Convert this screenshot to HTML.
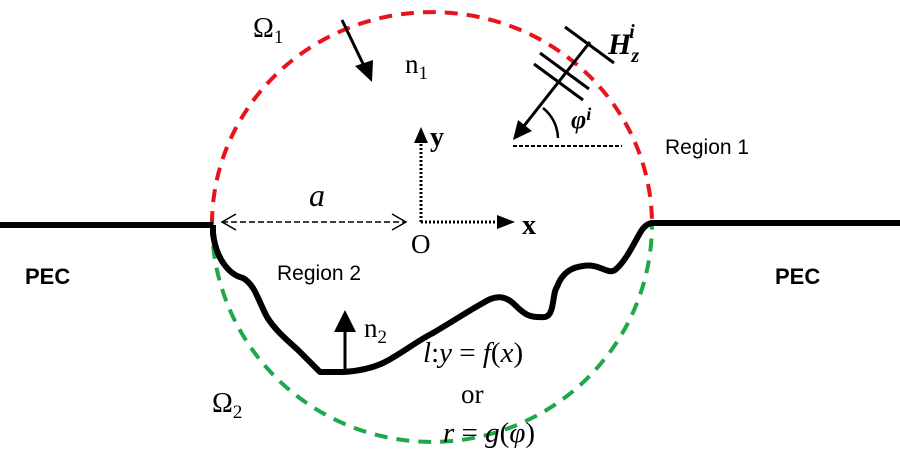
<!DOCTYPE html>
<html><head><meta charset="utf-8"><style>html,body{margin:0;padding:0;background:#fff}svg{display:block}</style></head>
<body>
<svg width="900" height="451" viewBox="0 0 900 451" xmlns="http://www.w3.org/2000/svg">
<path d="M212,224 A220,212 0 0 1 652,224" fill="none" stroke="#e8141c" stroke-width="4" stroke-dasharray="13,9"/>
<path d="M212,224 A220,218 0 0 0 652,224" fill="none" stroke="#1fa84a" stroke-width="4" stroke-dasharray="13,9"/>
<line x1="0" y1="225" x2="213" y2="225" stroke="#000" stroke-width="6"/>
<line x1="650" y1="223" x2="900" y2="223" stroke="#000" stroke-width="6"/>
<path d="M213,225 L213,233 C216,260 230,275 243,278 C255,285 258,300 267,317 C275,330 287,340 298,350 L320,372 L343,372 C360,371 372,368 383,363 C400,355 415,342 433,333 C455,320 470,310 483,303 C495,295 505,295 515,305 C525,315 530,318 545,317 C555,315 552,293 557,287 C563,270 575,267 583,266 C600,263 607,275 615,270 C625,262 632,247 640,233 C644,226 648,223 653,223" fill="none" stroke="#000" stroke-width="6" stroke-linejoin="round"/>
<line x1="342" y1="20" x2="366" y2="70" stroke="#000" stroke-width="3"/>
<path d="M372,82 L355,66 L373,60 z" fill="#000"/>
<line x1="421" y1="222" x2="421" y2="142" stroke="#000" stroke-width="3" stroke-dasharray="2,2"/>
<path d="M421,127 L414,143 L428,143 z" fill="#000"/>
<line x1="421" y1="222" x2="498" y2="222" stroke="#000" stroke-width="3" stroke-dasharray="2,2"/>
<path d="M515,222 L497,215 L497,229 z" fill="#000"/>
<line x1="222" y1="222" x2="406" y2="222" stroke="#000" stroke-width="1.5" stroke-dasharray="6,3"/>
<path d="M236,214 L222,222 L236,230" fill="none" stroke="#000" stroke-width="1.5"/>
<path d="M392,214 L406,222 L392,230" fill="none" stroke="#000" stroke-width="1.5"/>
<line x1="590" y1="42" x2="520" y2="131" stroke="#000" stroke-width="3"/>
<path d="M513,140 L518,120 L532,131 z" fill="#000"/>
<line x1="565" y1="27" x2="614" y2="63" stroke="#000" stroke-width="3"/>
<line x1="540" y1="53" x2="589" y2="89" stroke="#000" stroke-width="3"/>
<line x1="534" y1="64" x2="583" y2="100" stroke="#000" stroke-width="3"/>
<path d="M543,108 A40,40 0 0 1 558,138" fill="none" stroke="#000" stroke-width="2.5"/>
<line x1="513" y1="146" x2="622" y2="146" stroke="#000" stroke-width="2" stroke-dasharray="4,2"/>
<line x1="345" y1="372" x2="345" y2="325" stroke="#000" stroke-width="3"/>
<path d="M345,310 L334,332 L356,332 z" fill="#000"/>
<g font-family="Liberation Serif, serif" fill="#000">
<text x="253" y="37" font-size="28">Ω<tspan font-size="19" dy="6">1</tspan></text>
<text x="212" y="412" font-size="28">Ω<tspan font-size="19" dy="6">2</tspan></text>
<text x="405" y="73" font-size="27">n<tspan font-size="19" dy="6">1</tspan></text>
<text x="364" y="337" font-size="27">n<tspan font-size="19" dy="6">2</tspan></text>
<text x="430" y="146" font-size="28" font-weight="bold">y</text>
<text x="522" y="234" font-size="28" font-weight="bold">x</text>
<text x="411" y="253" font-size="27">O</text>
<text x="309" y="206" font-size="32" font-style="italic">a</text>
<text x="608" y="54" font-size="30" font-style="italic" font-weight="bold">H<tspan font-size="20" dy="8">z</tspan><tspan font-size="20" dx="-10" dy="-24">i</tspan></text>
<text x="571" y="128" font-size="26" font-style="italic" font-weight="bold">φ<tspan font-size="18" dy="-8">i</tspan></text>
<text x="423" y="362" font-size="29" font-style="italic">l<tspan font-style="normal">:</tspan>y <tspan font-style="normal">=</tspan> f<tspan font-style="normal">(</tspan>x<tspan font-style="normal">)</tspan></text>
<text x="461" y="403" font-size="27">or</text>
<text x="443" y="442" font-size="29" font-style="italic">r <tspan font-style="normal">=</tspan> g<tspan font-style="normal">(</tspan>φ<tspan font-style="normal">)</tspan></text>
</g>
<g font-family="Liberation Sans, sans-serif" fill="#000">
<text x="665" y="154" font-size="21">Region 1</text>
<text x="277" y="280" font-size="21">Region 2</text>
<text x="25" y="284" font-size="22" font-weight="bold">PEC</text>
<text x="775" y="284" font-size="22" font-weight="bold">PEC</text>
</g>
</svg>
</body></html>
